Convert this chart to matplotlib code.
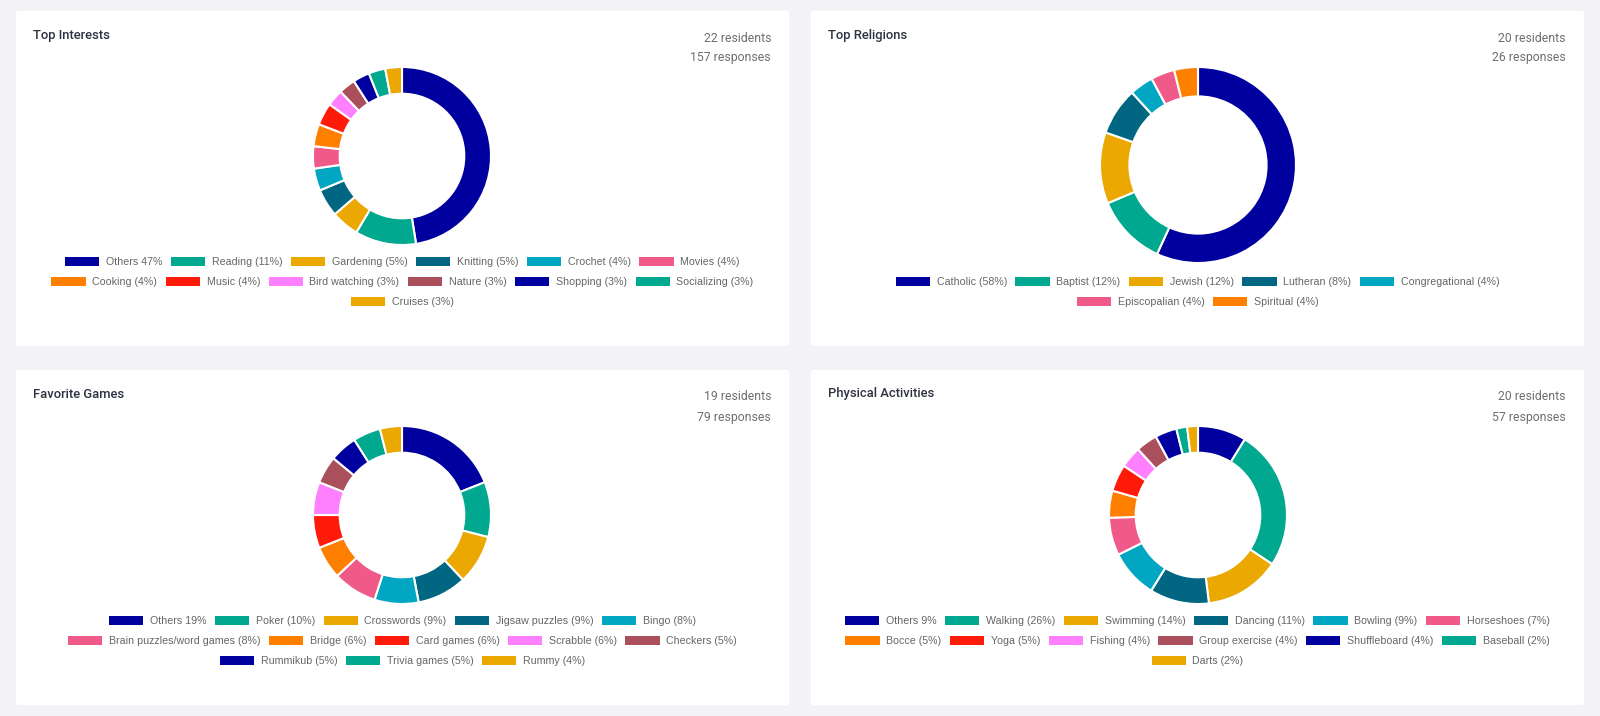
import matplotlib.pyplot as plt
from matplotlib.patches import FancyBboxPatch, Patch

# palette used by the dashboard (repeats after 10)
palette = ['#00009e', '#00a88f', '#eaa800', '#006682', '#00a6c2',
           '#f05a88', '#ff8000', '#ff1a0a', '#ff80ff', '#aa4f5c']

# --- data ---
interest_names = ['Others', 'Reading', 'Gardening', 'Knitting', 'Crochet', 'Movies',
                  'Cooking', 'Music', 'Bird watching', 'Nature', 'Shopping',
                  'Socializing', 'Cruises']
interest_pct = [47, 11, 5, 5, 4, 4, 4, 4, 3, 3, 3, 3, 3]

religion_names = ['Catholic', 'Baptist', 'Jewish', 'Lutheran', 'Congregational',
                  'Episcopalian', 'Spiritual']
religion_pct = [58, 12, 12, 8, 4, 4, 4]

game_names = ['Others', 'Poker', 'Crosswords', 'Jigsaw puzzles', 'Bingo',
              'Brain puzzles/word games', 'Bridge', 'Card games', 'Scrabble',
              'Checkers', 'Rummikub', 'Trivia games', 'Rummy']
game_pct = [19, 10, 9, 9, 8, 8, 6, 6, 6, 5, 5, 5, 4]

activity_names = ['Others', 'Walking', 'Swimming', 'Dancing', 'Bowling', 'Horseshoes',
                  'Bocce', 'Yoga', 'Fishing', 'Group exercise', 'Shuffleboard',
                  'Baseball', 'Darts']
activity_pct = [9, 26, 14, 11, 9, 7, 5, 5, 4, 4, 4, 2, 2]

titles = ['Top Interests', 'Top Religions', 'Favorite Games', 'Physical Activities']
residents = [22, 20, 19, 20]
responses = [157, 26, 79, 57]

# --- layout (pixels) ---
W, H = 1600, 716
card_x = [15, 810, 15, 810]
card_y = [10, 10, 369, 369]
card_w, card_h = 775, 337
donut_c = [(402, 156), (1198, 165), (402, 515), (1198, 515)]
donut_r = [89, 98, 89, 89]
legend_rows = [[262, 282, 302], [282, 302], [621, 641, 661], [621, 641, 661]]
row_sizes = [[6, 6, 1], [5, 2], [5, 5, 3], [6, 6, 1]]

all_names = [interest_names, religion_names, game_names, activity_names]
all_pct = [interest_pct, religion_pct, game_pct, activity_pct]

fig = plt.figure(figsize=(16, 7.16), dpi=100)
fig.patch.set_facecolor('#f4f4f8')
bg = fig.add_axes([0, 0, 1, 1])
bg.set_xlim(0, W)
bg.set_ylim(H, 0)
bg.axis('off')

for i in range(4):
    x0, y0 = card_x[i], card_y[i]
    bg.add_patch(FancyBboxPatch((x0, y0), card_w, card_h,
                                boxstyle='round,pad=0,rounding_size=4',
                                fc='white', ec='#ececf2', lw=0.6))
    bg.text(x0 + 18, y0 + 25, titles[i], fontsize=9.4, family='Roboto',
            fontweight='medium', color='#2d3142', va='center', ha='left')
    bg.text(x0 + card_w - 19, y0 + 28, f'{residents[i]} residents', fontsize=8.8,
            family='Roboto', color='#6e6e6e', va='center', ha='right')
    bg.text(x0 + card_w - 19, y0 + 48, f'{responses[i]} responses', fontsize=8.8,
            family='Roboto', color='#6e6e6e', va='center', ha='right')

    names, pct = all_names[i], all_pct[i]
    colors = [palette[k % len(palette)] for k in range(len(pct))]

    cx, cy = donut_c[i]
    r = donut_r[i]
    ax = fig.add_axes([(cx - 1.1 * r) / W, (H - cy - 1.1 * r) / H,
                       2.2 * r / W, 2.2 * r / H])
    ax.pie(pct, colors=colors, startangle=90, counterclock=False,
           wedgeprops=dict(width=0.3, edgecolor='white', linewidth=1.5))
    ax.set_xlim(-1.1, 1.1)
    ax.set_ylim(-1.1, 1.1)
    ax.set_aspect('equal')

    labels = []
    for k, (n, v) in enumerate(zip(names, pct)):
        if n == 'Others' and k == 0:
            labels.append(f'{n} {v}%')
        else:
            labels.append(f'{n} ({v}%)')
    handles = [Patch(facecolor=c, edgecolor='none') for c in colors]

    start = 0
    for ry, n in zip(legend_rows[i], row_sizes[i]):
        fig.legend(handles[start:start + n], labels[start:start + n],
                   loc='center', bbox_to_anchor=(x0 + card_w / 2, ry),
                   bbox_transform=bg.transData, ncol=n, frameon=False,
                   prop={'family': 'Liberation Sans', 'size': 7.7},
                   labelcolor='#666666', handlelength=3.2, handleheight=0.85,
                   handletextpad=0.62, columnspacing=0.8, borderpad=0,
                   borderaxespad=0)
        start += n

fig.savefig('out.png', dpi=100, facecolor=fig.get_facecolor())
